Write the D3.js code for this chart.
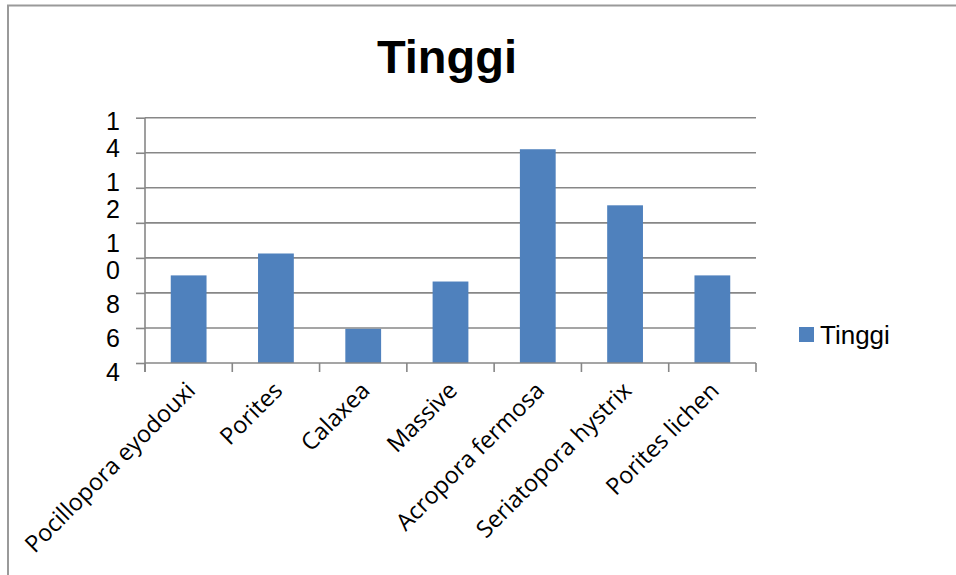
<!DOCTYPE html>
<html>
<head>
<meta charset="utf-8">
<script src="https://cdn.jsdelivr.net/npm/d3@7"></script>
<style>
  html, body { margin: 0; padding: 0; background: #fff; }
  svg { display: block; }
</style>
</head>
<body>
<svg id="chart" width="956" height="575"></svg>
<script>
// Coral height by species
const categories = [
  "Pocillopora eyodouxi", "Porites", "Calaxea", "Massive",
  "Acropora fermosa", "Seriatopora hystrix", "Porites lichen"
];
const tinggi = [9, 10.25, 5.95, 8.65, 16.2, 13, 9];
const seriesName = "Tinggi";
const gridValues = [4, 6, 8, 10, 12, 14, 16, 18];
const yTickLabels = ["14", "12", "10", "8", "6", "4"];

const svg = d3.select("#chart");
const W = 956, H = 575;
const plot = { left: 145, right: 756, top: 117.7, bottom: 363 };
const gridColor = "#878787";
const barColor = "#4F81BD";

// chart frame (top and left edges)
svg.append("path")
  .attr("d", `M8,${H} L8,5.5 L${W},5.5`)
  .attr("fill", "none")
  .attr("stroke", "#9a9a9a")
  .attr("stroke-width", 2);

// title
svg.append("text")
  .attr("x", 447).attr("y", 73)
  .attr("text-anchor", "middle")
  .style("font-family", "'Liberation Sans', Arial, sans-serif")
  .style("font-weight", "bold")
  .style("font-size", "47px")
  .text(seriesName);

const x = d3.scaleBand()
  .domain(categories)
  .range([plot.left, plot.right])
  .paddingInner(0.59)
  .paddingOuter(0.295);

const y = d3.scaleLinear()
  .domain([d3.min(gridValues), d3.max(gridValues)])
  .range([plot.bottom, plot.top]);

// horizontal gridlines
svg.append("g").selectAll("line")
  .data(gridValues.slice(1))
  .join("line")
  .attr("x1", plot.left).attr("x2", plot.right)
  .attr("y1", d => y(d)).attr("y2", d => y(d))
  .attr("stroke", gridColor)
  .attr("stroke-width", 1.6);

// bars
svg.append("g").selectAll("rect")
  .data(tinggi)
  .join("rect")
  .attr("x", (d, i) => x(categories[i]))
  .attr("width", x.bandwidth())
  .attr("y", d => y(d))
  .attr("height", d => y(y.domain()[0]) - y(d))
  .attr("fill", barColor);

// y axis with outward ticks
const yAxis = d3.axisLeft(y).tickValues(gridValues).tickSize(9).tickFormat("");
const gy = svg.append("g").attr("transform", `translate(${plot.left},0)`).call(yAxis);
gy.select(".domain").attr("stroke", gridColor).attr("stroke-width", 1.6)
  .attr("d", `M0,${plot.top}V${plot.bottom + 9}`);
gy.selectAll(".tick line").attr("stroke", gridColor).attr("stroke-width", 1.6);

// x axis with boundary ticks between categories
const step = x.step();
const boundaries = d3.range(categories.length + 1).map(i => plot.left + i * step);
const gx = svg.append("g");
gx.append("line")
  .attr("x1", plot.left).attr("x2", plot.right)
  .attr("y1", plot.bottom).attr("y2", plot.bottom)
  .attr("stroke", gridColor).attr("stroke-width", 1.6);
gx.selectAll("line.tk")
  .data(boundaries)
  .join("line").attr("class", "tk")
  .attr("x1", d => d).attr("x2", d => d)
  .attr("y1", plot.bottom).attr("y2", plot.bottom + 9)
  .attr("stroke", gridColor).attr("stroke-width", 1.6);

// rotated category labels
svg.append("g").selectAll("text")
  .data(categories)
  .join("text")
  .attr("transform", d => `translate(${x(d) + x.bandwidth() / 2 + 8},${plot.bottom + 29}) rotate(-45)`)
  .attr("text-anchor", "end")
  .style("font-family", "'Open Sans', sans-serif")
  .style("font-size", "23.5px")
  .attr("fill", "#000")
  .text(d => d);

// y tick labels, digits stacked one per line in a narrow column
const lineStep = 27, labelGap = 34;
let pos = 121;
const labelLines = [];
yTickLabels.forEach((lab, li) => {
  lab.split("").forEach((ch, ci) => {
    labelLines.push({ ch, yc: pos });
    pos += (ci < lab.length - 1) ? lineStep : labelGap;
  });
});
svg.append("g").selectAll("text")
  .data(labelLines)
  .join("text")
  .attr("x", 113)
  .attr("y", d => d.yc)
  .attr("dy", "0.36em")
  .attr("text-anchor", "middle")
  .style("font-family", "'Liberation Sans', Arial, sans-serif")
  .style("font-size", "25px")
  .text(d => d.ch);

// legend
const lg = svg.append("g");
lg.append("rect")
  .attr("x", 799).attr("y", 327).attr("width", 15).attr("height", 15)
  .attr("fill", barColor);
lg.append("text")
  .attr("x", 820).attr("y", 344)
  .style("font-family", "'Liberation Sans', Arial, sans-serif")
  .style("font-size", "26px")
  .text(seriesName);
</script>
</body>
</html>
